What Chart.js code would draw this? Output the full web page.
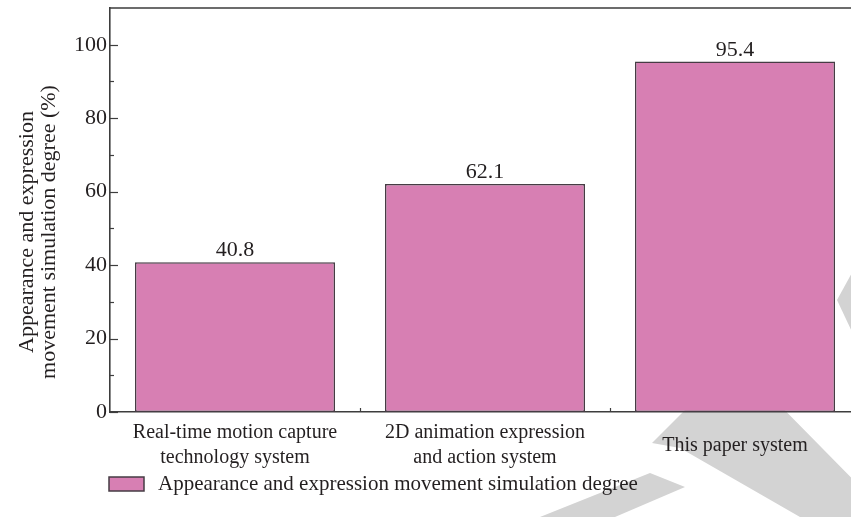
<!DOCTYPE html>
<html>
<head>
<meta charset="utf-8">
<script src="https://cdn.jsdelivr.net/npm/chart.js@4/dist/chart.umd.min.js"></script>
<style>
  html, body { margin: 0; padding: 0; background: #fff; overflow: hidden; }
  #wrap { width: 870px; height: 517px; }
</style>
</head>
<body>
<div id="wrap"><canvas id="c" width="870" height="517"></canvas></div>
<script>
// Systems compared and their simulation degree (%)
const categories = [
  ['Real-time motion capture', 'technology system'],
  ['2D animation expression', 'and action system'],
  'This paper system'
];
const simulationDegree = [40.8, 62.1, 95.4];
const seriesLabel = 'Appearance and expression movement simulation degree';
const yTitleLines = ['Appearance and expression', 'movement simulation degree (%)'];
const yMajorTicks = [0, 20, 40, 60, 80, 100];

const FONT = '"Liberation Serif", "DejaVu Serif", serif';
const INK = '#231f20';
const AXIS = '#3d3d3d';
const BAR_FILL = '#d77fb3';
const BAR_EDGE = '#463c44';

// light grey diagonal bands painted behind the chart
const backdropBands = {
  id: 'backdropBands',
  beforeDraw(chart) {
    const ctx = chart.ctx;
    ctx.save();
    ctx.fillStyle = '#d3d3d3';
    ctx.beginPath();
    ctx.moveTo(710, 385); ctx.lineTo(760, 385); ctx.lineTo(890, 517); ctx.lineTo(800, 517);
    ctx.lineTo(680, 448); ctx.lineTo(652, 443);
    ctx.closePath();
    ctx.fill();
    ctx.beginPath();
    ctx.moveTo(540, 517); ctx.lineTo(650, 473); ctx.lineTo(685, 487); ctx.lineTo(615, 517);
    ctx.closePath();
    ctx.fill();
    ctx.beginPath();
    ctx.moveTo(870, 240); ctx.lineTo(837, 300); ctx.lineTo(870, 370);
    ctx.closePath();
    ctx.fill();
    ctx.restore();
  }
};

// frame, inward ticks, value labels, y title and legend entry
const decorations = {
  id: 'decorations',
  afterDraw(chart) {
    const ctx = chart.ctx;
    const area = chart.chartArea;
    const y = chart.scales.y;
    const x = chart.scales.x;
    ctx.save();
    ctx.strokeStyle = AXIS;
    ctx.lineWidth = 1.6;
    // top and right frame
    ctx.beginPath();
    ctx.moveTo(area.left, area.top); ctx.lineTo(area.right, area.top);
    ctx.lineTo(area.right, area.bottom);
    ctx.stroke();
    // y ticks pointing into the plot
    ctx.lineWidth = 1.2;
    for (let v = 0; v < y.max; v += 10) {
      const py = Math.round(y.getPixelForValue(v)) + 0.5;
      const len = (v % 20 === 0) ? 8 : 4;
      ctx.beginPath();
      ctx.moveTo(area.left, py); ctx.lineTo(area.left + len, py);
      ctx.stroke();
    }
    // x ticks at category boundaries
    for (let i = 0; i < categories.length - 1; i++) {
      const px = Math.round((x.getPixelForValue(i) + x.getPixelForValue(i + 1)) / 2) + 0.5;
      ctx.beginPath();
      ctx.moveTo(px, area.bottom); ctx.lineTo(px, area.bottom - 4);
      ctx.stroke();
    }
    // value labels above bars
    ctx.fillStyle = INK;
    ctx.font = '22px ' + FONT;
    ctx.textAlign = 'center';
    ctx.textBaseline = 'alphabetic';
    chart.getDatasetMeta(0).data.forEach((bar, i) => {
      ctx.fillText(simulationDegree[i].toFixed(1), bar.x, bar.y - 6);
    });
    // y axis title
    ctx.save();
    ctx.font = '22px ' + FONT;
    ctx.translate(0, 232);
    ctx.rotate(-Math.PI / 2);
    ctx.textBaseline = 'middle';
    ctx.fillText(yTitleLines[0], 0, 27);
    ctx.fillText(yTitleLines[1], 0, 49);
    ctx.restore();
    // legend entry
    const ds = chart.data.datasets[0];
    const bx = area.left - 1, by = 477;
    ctx.fillStyle = ds.backgroundColor;
    ctx.fillRect(bx, by, 35, 14);
    ctx.strokeStyle = ds.borderColor;
    ctx.lineWidth = 1.5;
    ctx.strokeRect(bx, by, 35, 14);
    ctx.fillStyle = INK;
    ctx.font = '21px ' + FONT;
    ctx.textAlign = 'left';
    ctx.textBaseline = 'middle';
    ctx.fillText(ds.label, bx + 49, by + 7);
    ctx.restore();
  }
};

new Chart(document.getElementById('c'), {
  type: 'bar',
  data: {
    labels: categories,
    datasets: [{
      label: seriesLabel,
      data: simulationDegree,
      backgroundColor: BAR_FILL,
      borderColor: BAR_EDGE,
      borderWidth: 1.5,
      borderSkipped: false,
      barPercentage: 1,
      categoryPercentage: 0.8
    }]
  },
  options: {
    responsive: false,
    animation: false,
    devicePixelRatio: 1,
    layout: { padding: { top: 8, left: 0, right: 10, bottom: 43 } },
    plugins: {
      legend: { display: false },
      tooltip: { enabled: false }
    },
    scales: {
      x: {
        grid: { display: false, drawTicks: false },
        border: { display: true, color: AXIS, width: 1.6 },
        ticks: {
          color: INK,
          font: { family: FONT, size: 20, lineHeight: 1.24 },
          padding: 21,
          crossAlign: 'center',
          maxRotation: 0,
          autoSkip: false
        },
        afterFit(scale) {
          scale.height = 62;
          scale.paddingLeft = 0;
          scale.paddingRight = 0;
        }
      },
      y: {
        min: 0,
        max: 110,
        grid: { display: false, drawTicks: false },
        border: { display: true, color: AXIS, width: 1.6 },
        ticks: {
          stepSize: 10,
          color: INK,
          font: { family: FONT, size: 22 },
          padding: 3,
          callback: (v) => yMajorTicks.includes(v) ? String(v) : ''
        },
        afterFit(scale) {
          scale.width = 110;
          scale.paddingTop = 0;
          scale.paddingBottom = 0;
        }
      }
    }
  },
  plugins: [backdropBands, decorations]
});
</script>
</body>
</html>
